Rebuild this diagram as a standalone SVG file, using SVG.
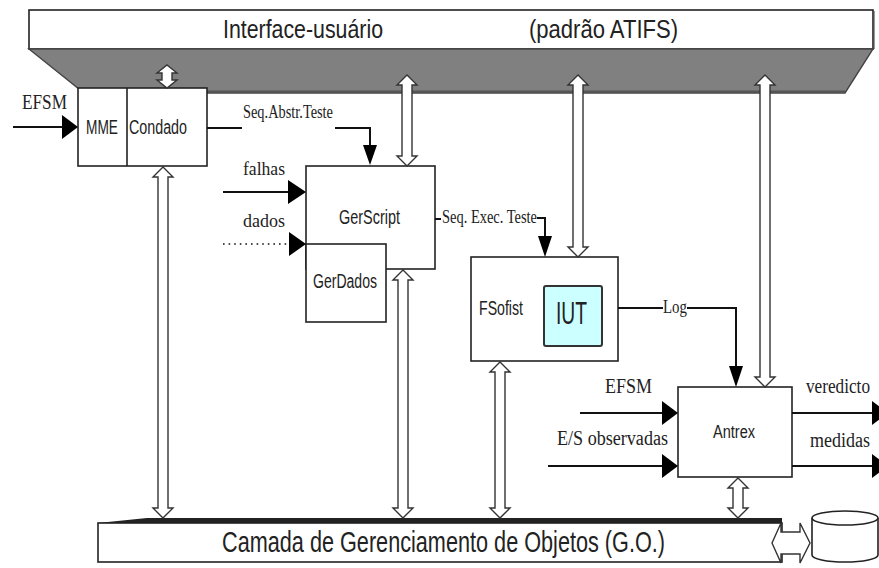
<svg xmlns="http://www.w3.org/2000/svg" width="879" height="568" viewBox="0 0 879 568">
<style>
.box{fill:#fff;stroke:#222;stroke-width:1.6}
.ln{fill:none;stroke:#111;stroke-width:2}
.dot{fill:none;stroke:#111;stroke-width:1.6;stroke-dasharray:1.6 4}
.hd{fill:#000;stroke:none}
.dbl{fill:#fff;stroke:#333;stroke-width:1.4;stroke-linejoin:miter}
.sans{font-family:"Liberation Sans",Arial,sans-serif;fill:#222}
.serif{font-family:"Liberation Serif","Times New Roman",serif;fill:#222}
</style>
<rect width="879" height="568" fill="#fff"/>

<g id="interface-usuario">
  <rect x="29" y="10" width="844" height="39" class="box"/>
  <line x1="874.5" y1="11" x2="874.5" y2="49" stroke="#999" stroke-width="1"/>
  <polygon points="29,49 873,49 845,93 84,93" fill="#808080" stroke="#444" stroke-width="1.4"/>
  <line x1="84" y1="91.5" x2="845" y2="91.5" stroke="#555" stroke-width="2"/>
  <text class="sans" x="223" y="38" font-size="25" textLength="160" lengthAdjust="spacingAndGlyphs">Interface-usuário</text>
  <text class="sans" x="529" y="38" font-size="25" textLength="149" lengthAdjust="spacingAndGlyphs">(padrão ATIFS)</text>
</g>

<g id="camada-go">
  <rect x="98" y="523" width="684" height="39" class="box"/>
  <polygon points="98,523 147,518 782,518 782,523" fill="#222"/>
  <text class="sans" x="222" y="552" font-size="30" textLength="443" lengthAdjust="spacingAndGlyphs">Camada de Gerenciamento de Objetos (G.O.)</text>
</g>

<g id="database">
  <path d="M812,518 L812,555 A33,7 0 0 0 878,555 L878,518" class="box"/>
  <ellipse cx="845" cy="518" rx="33" ry="7" class="box"/>
</g>

<g id="mme-condado">
  <rect x="78" y="88" width="129" height="78" class="box"/>
  <line x1="127" y1="88" x2="127" y2="166" stroke="#222" stroke-width="1.6"/>
  <text class="sans" x="86" y="134" font-size="20" textLength="32" lengthAdjust="spacingAndGlyphs">MME</text>
  <text class="sans" x="129" y="134" font-size="20" textLength="58" lengthAdjust="spacingAndGlyphs">Condado</text>
</g>

<g id="gerscript">
  <rect x="306" y="166" width="129" height="103" class="box"/>
  <text class="sans" x="339" y="224" font-size="20" textLength="61" lengthAdjust="spacingAndGlyphs">GerScript</text>
</g>

<g id="gerdados">
  <rect x="306" y="244" width="80" height="78" class="box"/>
  <text class="sans" x="313" y="288" font-size="20" textLength="64" lengthAdjust="spacingAndGlyphs">GerDados</text>
</g>

<g id="fsofist">
  <rect x="471" y="257" width="147" height="104" class="box"/>
  <text class="sans" x="479" y="315" font-size="20" textLength="44" lengthAdjust="spacingAndGlyphs">FSofist</text>
</g>

<g id="iut">
  <rect x="544" y="286" width="58" height="60" rx="2" fill="#ccffff" stroke="#333" stroke-width="2"/>
  <text class="sans" x="556" y="324" font-size="32" textLength="31" lengthAdjust="spacingAndGlyphs">IUT</text>
</g>

<g id="antrex">
  <rect x="678" y="387" width="114" height="90" class="box"/>
  <text class="sans" x="713" y="438" font-size="18" textLength="42" lengthAdjust="spacingAndGlyphs">Antrex</text>
</g>

<g id="connectors">
  <path class="dbl" d="M167,65 L177,73 L172,73 L172,80 L177,80 L167,88 L157,80 L162,80 L162,73 L157,73 Z"/>
  <path class="dbl" d="M163,167 L173,177 L168,177 L168,508 L173,508 L163,518 L153,508 L158,508 L158,177 L153,177 Z"/>
  <path class="dbl" d="M407,75 L417,85 L412,85 L412,156 L417,156 L407,166 L397,156 L402,156 L402,85 L397,85 Z"/>
  <path class="dbl" d="M403,270 L413,280 L408,280 L408,508 L413,508 L403,518 L393,508 L398,508 L398,280 L393,280 Z"/>
  <path class="dbl" d="M578,75 L588,85 L583,85 L583,247 L588,247 L578,257 L568,247 L573,247 L573,85 L568,85 Z"/>
  <path class="dbl" d="M500,362 L510,372 L505,372 L505,508 L510,508 L500,518 L490,508 L495,508 L495,372 L490,372 Z"/>
  <path class="dbl" d="M765,75 L775,85 L770,85 L770,377 L775,377 L765,387 L755,377 L760,377 L760,85 L755,85 Z"/>
  <path class="dbl" d="M738,478 L748,488 L743,488 L743,508 L748,508 L738,518 L728,508 L733,508 L733,488 L728,488 Z"/>
  <path class="dbl" d="M772,543 L781,523 L781,532 L800,532 L800,523 L810,543 L800,563 L800,554 L781,554 L781,563 Z"/>

  <line class="ln" x1="13" y1="127" x2="64" y2="127"/>
  <polygon class="hd" points="62,115 78,127 62,139"/>
  <text class="serif" x="22" y="109" font-size="21" textLength="45" lengthAdjust="spacingAndGlyphs">EFSM</text>

  <line class="ln" x1="207" y1="128" x2="242" y2="128"/>
  <polyline class="ln" points="335,128 370,128 370,147"/>
  <polygon class="hd" points="363,145 377,145 370,165"/>
  <text class="serif" x="243" y="118" font-size="18" textLength="90" lengthAdjust="spacingAndGlyphs">Seq.Abstr.Teste</text>

  <line class="ln" x1="223" y1="192" x2="290" y2="192"/>
  <polygon class="hd" points="288,180 306,192 288,204"/>
  <text class="serif" x="243" y="175" font-size="19" textLength="42" lengthAdjust="spacingAndGlyphs">falhas</text>

  <line class="dot" x1="223" y1="244" x2="289" y2="244"/>
  <polygon class="hd" points="289,232 306,244 289,256"/>
  <text class="serif" x="243" y="227" font-size="19" textLength="42" lengthAdjust="spacingAndGlyphs">dados</text>

  <line class="ln" x1="435" y1="219" x2="441" y2="219"/>
  <polyline class="ln" points="537,218 545,218 545,238"/>
  <polygon class="hd" points="538,236 552,236 545,257"/>
  <text class="serif" x="442" y="223" font-size="18" textLength="95" lengthAdjust="spacingAndGlyphs">Seq. Exec. Teste</text>

  <line class="ln" x1="618" y1="308" x2="663" y2="308"/>
  <polyline class="ln" points="687,308 736,308 736,368"/>
  <polygon class="hd" points="729,366 743,366 736,387"/>
  <text class="serif" x="663" y="313" font-size="18" textLength="24" lengthAdjust="spacingAndGlyphs">Log</text>

  <line class="ln" x1="580" y1="413" x2="664" y2="413"/>
  <polygon class="hd" points="662,401 678,413 662,425"/>
  <text class="serif" x="605" y="393" font-size="21" textLength="47" lengthAdjust="spacingAndGlyphs">EFSM</text>
  <line class="ln" x1="548" y1="466" x2="664" y2="466"/>
  <polygon class="hd" points="662,454 678,466 662,478"/>
  <text class="serif" x="557" y="445" font-size="20" textLength="111" lengthAdjust="spacingAndGlyphs">E/S observadas</text>

  <line class="ln" x1="792" y1="413" x2="874" y2="413"/>
  <polygon class="hd" points="872,401 888,413 872,425"/>
  <text class="serif" x="806" y="393" font-size="20" textLength="64" lengthAdjust="spacingAndGlyphs">veredicto</text>
  <line class="ln" x1="792" y1="466" x2="874" y2="466"/>
  <polygon class="hd" points="872,454 888,466 872,478"/>
  <text class="serif" x="810" y="447" font-size="20" textLength="60" lengthAdjust="spacingAndGlyphs">medidas</text>
</g>
</svg>
